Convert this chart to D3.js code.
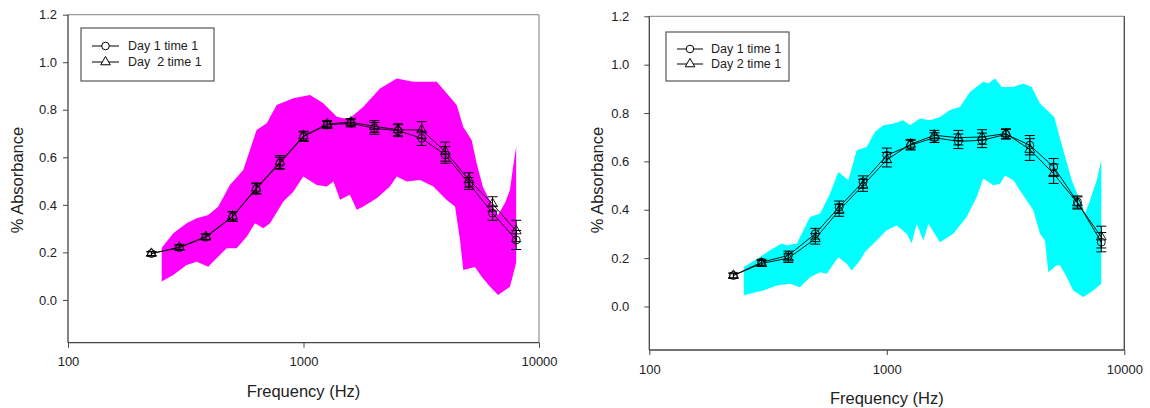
<!DOCTYPE html>
<meta charset="utf-8">
<style>
  body { margin: 0; background: #fff; }
  svg { font-family: "Liberation Sans", Arial, sans-serif; }
  .tick text { fill: #222; }
</style>
<svg width="1150" height="408"></svg>
<script src="https://d3js.org/d3.v7.min.js"></script>
<script>

// band centre frequencies (Hz)
var freqs = [226, 297, 385, 500, 630, 794, 1000, 1260, 1587, 2000, 2520, 3175, 4000, 5040, 6350, 8000];
var xTicks = [100, 1000, 10000];
var yTicks = [0, 0.2, 0.4, 0.6, 0.8, 1.0, 1.2];

// left panel
var leftDay1 = [0.195, 0.22, 0.264, 0.35, 0.467, 0.575, 0.687, 0.736, 0.743, 0.722, 0.712, 0.68, 0.61, 0.49, 0.365, 0.252];
var leftDay2 = [0.195, 0.222, 0.266, 0.352, 0.47, 0.58, 0.69, 0.74, 0.748, 0.73, 0.716, 0.715, 0.624, 0.505, 0.404, 0.29];
var leftErr1 = [0.008, 0.01, 0.012, 0.02, 0.022, 0.025, 0.02, 0.015, 0.015, 0.025, 0.025, 0.03, 0.035, 0.025, 0.03, 0.04];
var leftErr2 = [0.008, 0.01, 0.012, 0.02, 0.022, 0.027, 0.02, 0.015, 0.015, 0.025, 0.025, 0.035, 0.04, 0.03, 0.03, 0.045];
var leftUpperF = [250, 280, 319, 352, 394, 434, 487, 555, 632, 698, 769, 905, 1066, 1213, 1385, 1476, 1574, 1795, 2113, 2489, 2925, 3680, 4055, 4473, 4772, 5176, 5433, 5781, 6379, 6699, 7172, 7530, 7762, 8000];
var leftUpperV = [0.22, 0.28, 0.323, 0.344, 0.357, 0.392, 0.484, 0.547, 0.715, 0.743, 0.82, 0.848, 0.862, 0.827, 0.771, 0.764, 0.764, 0.813, 0.89, 0.932, 0.918, 0.918, 0.869, 0.82, 0.728, 0.673, 0.576, 0.475, 0.391, 0.357, 0.408, 0.463, 0.559, 0.644];
var leftLowerF = [250, 280, 319, 352, 394, 434, 472, 520, 574, 622, 675, 721, 820, 905, 998, 1138, 1255, 1340, 1430, 1574, 1683, 1795, 2046, 2328, 2489, 2743, 3126, 3559, 4055, 4400, 4620, 4770, 5346, 5710, 6194, 6699, 7530, 8000];
var leftLowerV = [0.077, 0.105, 0.147, 0.161, 0.14, 0.182, 0.217, 0.217, 0.266, 0.323, 0.302, 0.323, 0.413, 0.455, 0.519, 0.484, 0.477, 0.498, 0.421, 0.442, 0.379, 0.393, 0.428, 0.477, 0.519, 0.498, 0.505, 0.477, 0.42, 0.393, 0.252, 0.126, 0.139, 0.097, 0.055, 0.021, 0.055, 0.156];

// right panel
var rightDay1 = [0.128, 0.183, 0.211, 0.301, 0.411, 0.515, 0.625, 0.667, 0.698, 0.683, 0.687, 0.712, 0.667, 0.577, 0.432, 0.266];
var rightDay2 = [0.128, 0.178, 0.2, 0.28, 0.398, 0.501, 0.607, 0.671, 0.708, 0.698, 0.701, 0.715, 0.649, 0.549, 0.428, 0.287];
var rightErr1 = [0.01, 0.012, 0.018, 0.022, 0.025, 0.025, 0.03, 0.02, 0.02, 0.03, 0.03, 0.02, 0.04, 0.035, 0.025, 0.04];
var rightErr2 = [0.01, 0.012, 0.018, 0.022, 0.025, 0.025, 0.03, 0.02, 0.02, 0.03, 0.03, 0.02, 0.045, 0.04, 0.025, 0.045];
var rightUpperF = [250, 292, 322, 361, 379, 418, 475, 524, 577, 625, 689, 747, 823, 891, 966, 1064, 1172, 1253, 1380, 1520, 1675, 1845, 2032, 2239, 2547, 2673, 2855, 3048, 3412, 3758, 4074, 4416, 5070, 5535, 6008, 6501, 6833, 7175, 7657, 8000];
var rightUpperV = [0.163, 0.204, 0.232, 0.26, 0.253, 0.26, 0.37, 0.384, 0.467, 0.556, 0.522, 0.646, 0.66, 0.722, 0.749, 0.756, 0.77, 0.749, 0.777, 0.77, 0.784, 0.812, 0.825, 0.887, 0.929, 0.922, 0.943, 0.908, 0.908, 0.922, 0.908, 0.839, 0.784, 0.646, 0.522, 0.439, 0.384, 0.439, 0.522, 0.605];
var rightLowerF = [250, 302, 344, 391, 431, 475, 524, 558, 625, 678, 711, 771, 809, 906, 999, 1101, 1213, 1273, 1336, 1425, 1496, 1675, 1905, 2168, 2391, 2547, 2807, 2998, 3146, 3412, 3640, 4140, 4416, 4634, 4786, 5190, 5354, 5626, 6095, 6720, 7396, 8000];
var rightLowerV = [0.046, 0.066, 0.087, 0.094, 0.08, 0.121, 0.142, 0.135, 0.204, 0.177, 0.149, 0.19, 0.225, 0.273, 0.315, 0.335, 0.301, 0.26, 0.342, 0.273, 0.342, 0.266, 0.301, 0.37, 0.453, 0.529, 0.501, 0.508, 0.542, 0.522, 0.48, 0.398, 0.301, 0.273, 0.142, 0.17, 0.17, 0.135, 0.066, 0.039, 0.066, 0.094];

var svg = d3.select("svg");

function drawPanel(p) {
  var x = d3.scaleLog().domain([100, 10000]).range([p.left, p.right]);
  var y = d3.scaleLinear().domain([-0.18, 1.2]).range([p.bottom, p.top]);
  var g = svg.append("g");

  // shaded normative range
  var band = leftPoly(p.upF, p.upV, p.loF, p.loV);
  g.append("path")
    .attr("d", d3.line().x(function(d) { return x(d[0]); }).y(function(d) { return y(d[1]); })(band) + "Z")
    .attr("fill", p.fill);

  // frame
  g.append("line").attr("x1", p.left).attr("x2", p.right).attr("y1", p.top).attr("y2", p.top)
    .attr("stroke", "#999").attr("stroke-width", 1.3);
  g.append("line").attr("x1", p.right).attr("x2", p.right).attr("y1", p.top).attr("y2", p.bottom)
    .attr("stroke", p.rightCol).attr("stroke-width", 1.3);

  var yAxis = g.append("g").attr("transform", "translate(" + p.left + ",0)")
    .call(d3.axisLeft(y).tickValues(yTicks).tickFormat(d3.format(".1f")).tickSize(5).tickPadding(p.yPad).tickSizeOuter(0));
  var xAxis = g.append("g").attr("transform", "translate(0," + p.bottom + ")")
    .call(d3.axisBottom(x).tickValues(xTicks).tickFormat(d3.format("d")).tickSize(5).tickPadding(p.xPad).tickSizeOuter(0));
  [yAxis, xAxis].forEach(function(a) {
    a.select(".domain").attr("stroke", "#444").attr("stroke-width", 1.3);
    a.selectAll(".tick line").attr("stroke", "#444");
    a.selectAll(".tick text").attr("font-size", 13).attr("font-family", "Liberation Sans, Arial, sans-serif");
  });
  yAxis.select(".domain").attr("d", "M0," + p.top + "V" + p.bottom);
  xAxis.select(".domain").attr("d", "M" + p.left + ",0H" + p.right);

  // axis titles
  g.append("text").attr("x", (p.left + p.right) / 2).attr("y", p.xTitleY)
    .attr("text-anchor", "middle").attr("font-size", 16.5).attr("fill", "#222").text("Frequency (Hz)");
  g.append("text").attr("transform", "translate(" + p.yTitleX + "," + p.yTitleY + ") rotate(-90)")
    .attr("text-anchor", "middle").attr("font-size", 16.5).attr("fill", "#222").text("% Absorbance");

  // series
  var series = [
    { vals: p.d1, err: p.e1, sym: "circle" },
    { vals: p.d2, err: p.e2, sym: "tri" }
  ];
  var line = d3.line().x(function(d) { return x(d[0]); }).y(function(d) { return y(d[1]); });
  series.forEach(function(s) {
    var pts = freqs.map(function(f, i) { return [f, s.vals[i], s.err[i]]; });
    g.append("path").attr("d", line(pts)).attr("fill", "none").attr("stroke", "#000").attr("stroke-width", 0.9);
    var eb = g.append("g").selectAll("g").data(pts).enter().append("g")
      .attr("stroke", "#000").attr("stroke-width", 1);
    eb.append("line").attr("x1", function(d) { return x(d[0]); }).attr("x2", function(d) { return x(d[0]); })
      .attr("y1", function(d) { return y(d[1] - d[2]); }).attr("y2", function(d) { return y(d[1] + d[2]); });
    [-1, 1].forEach(function(sgn) {
      eb.append("line").attr("x1", function(d) { return x(d[0]) - 5; }).attr("x2", function(d) { return x(d[0]) + 5; })
        .attr("y1", function(d) { return y(d[1] + sgn * d[2]); }).attr("y2", function(d) { return y(d[1] + sgn * d[2]); });
    });
    g.append("g").selectAll("path").data(pts).enter().append("path")
      .attr("transform", function(d) { return "translate(" + x(d[0]) + "," + y(d[1]) + ")"; })
      .attr("d", s.sym === "circle" ? d3.symbol().type(d3.symbolCircle).size(50)() : d3.symbol().type(d3.symbolTriangle).size(42)())
      .attr("fill", "none").attr("stroke", "#000").attr("stroke-width", 0.9);
  });

  // legend
  var L = p.legend;
  g.append("rect").attr("x", L.x).attr("y", L.y).attr("width", L.w).attr("height", L.h)
    .attr("fill", "#fff").attr("stroke", "#555").attr("stroke-width", 1.2);
  p.labels.forEach(function(lab, i) {
    var cy = L.rowY[i];
    g.append("line").attr("x1", L.lx1).attr("x2", L.lx2).attr("y1", cy).attr("y2", cy).attr("stroke", "#000");
    g.append("path").attr("transform", "translate(" + (L.lx1 + L.lx2) / 2 + "," + cy + ")")
      .attr("d", i === 0 ? d3.symbol().type(d3.symbolCircle).size(45)() : d3.symbol().type(d3.symbolTriangle).size(40)())
      .attr("fill", "#fff").attr("stroke", "#000");
    g.append("text").attr("x", L.tx).attr("y", cy).attr("dy", "0.35em")
      .attr("font-size", 12.5).attr("fill", "#222").style("white-space", "pre").text(lab);
  });
}

function leftPoly(uf, uv, lf, lv) {
  var pts = uf.map(function(f, i) { return [f, uv[i]]; });
  for (var i = lf.length - 1; i >= 0; i--) pts.push([lf[i], lv[i]]);
  return pts;
}

drawPanel({
  left: 68, right: 539, top: 14.7, bottom: 342.7, rightCol: "#999",
  yPad: 6, xPad: 9, xTitleY: 397, yTitleX: 23, yTitleY: 180,
  fill: "#ff00ff",
  upF: leftUpperF, upV: leftUpperV, loF: leftLowerF, loV: leftLowerV,
  d1: leftDay1, d2: leftDay2, e1: leftErr1, e2: leftErr2,
  labels: ["Day 1 time 1", "Day  2 time 1"],
  legend: { x: 81, y: 28, w: 133, h: 53, lx1: 92, lx2: 119, tx: 128, rowY: [46, 62] }
});

drawPanel({
  left: 649.3, right: 1124.3, top: 16.3, bottom: 350, rightCol: "#444",
  yPad: 15, xPad: 10, xTitleY: 404, yTitleX: 603, yTitleY: 180,
  fill: "#00ffff",
  upF: rightUpperF, upV: rightUpperV, loF: rightLowerF, loV: rightLowerV,
  d1: rightDay1, d2: rightDay2, e1: rightErr1, e2: rightErr2,
  labels: ["Day 1 time 1", "Day 2 time 1"],
  legend: { x: 666, y: 32, w: 123, h: 49, lx1: 677, lx2: 703, tx: 711, rowY: [49, 64] }
});

</script>
